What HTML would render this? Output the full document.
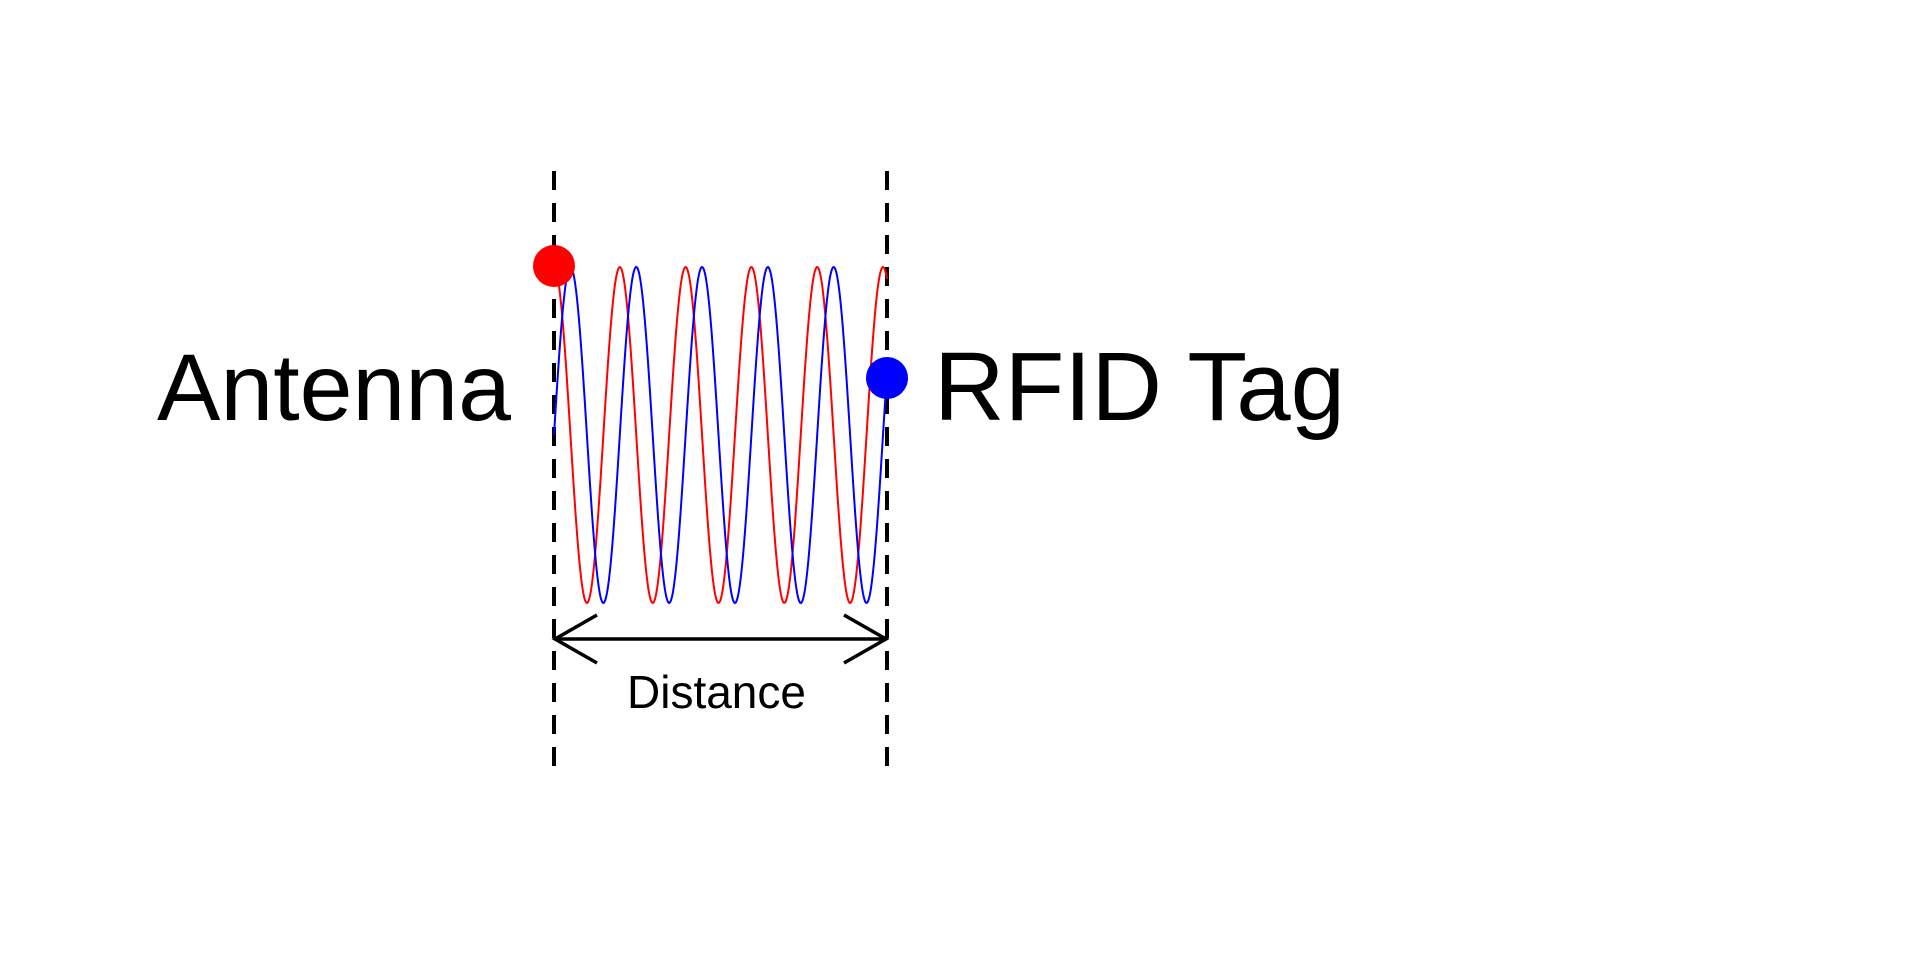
<!DOCTYPE html>
<html><head><meta charset="utf-8"><style>
html,body{margin:0;padding:0;background:#fff;width:1920px;height:960px;overflow:hidden}
svg{display:block}
text{font-family:"Liberation Sans",Arial,sans-serif;fill:#000}
</style></head><body>
<svg id="s" width="1920" height="960" viewBox="0 0 1920 960" xmlns="http://www.w3.org/2000/svg">
<line x1="554" y1="171" x2="554" y2="766" stroke="#000" stroke-width="4" stroke-dasharray="19 13"/>
<line x1="887" y1="171" x2="887" y2="766" stroke="#000" stroke-width="4" stroke-dasharray="19 13"/>
<polyline id="red" fill="none" stroke="#f00" stroke-width="2" points=""/>
<polyline id="blue" fill="none" stroke="#00f" stroke-width="2" points=""/>
<circle cx="554" cy="266" r="21" fill="#f00"/>
<circle cx="887" cy="378" r="21" fill="#00f"/>
<line x1="555" y1="639" x2="886" y2="639" stroke="#000" stroke-width="3.5"/>
<polyline points="597,615 555,639 597,663" fill="none" stroke="#000" stroke-width="3.5"/>
<polyline points="844,615 886,639 844,663" fill="none" stroke="#000" stroke-width="3.5"/>
<text x="157" y="420" font-size="95">Antenna</text>
<text x="934" y="420" font-size="97" textLength="411" lengthAdjust="spacingAndGlyphs">RFID Tag</text>
<text x="627" y="708" font-size="46">Distance</text>
</svg>
<script>
var r=[],b=[],P=65.8;
for(var x=554;x<=887;x+=1){var p=2*Math.PI*(x-554)/P;
r.push(x+","+(435-168*Math.cos(p)).toFixed(1));
b.push(x+","+(435-168*Math.sin(p)).toFixed(1));}
document.getElementById("red").setAttribute("points",r.join(" "));
document.getElementById("blue").setAttribute("points",b.join(" "));
</script>
</body></html>
